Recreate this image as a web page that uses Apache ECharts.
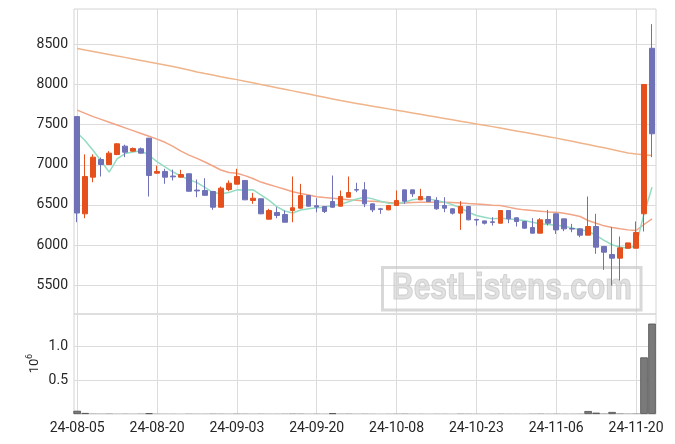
<!DOCTYPE html>
<html><head><meta charset="utf-8">
<script src="https://cdn.jsdelivr.net/npm/echarts@6/dist/echarts.min.js"></script>
<style>html,body{margin:0;padding:0;background:#fff}#c{width:675px;height:444px}</style>
</head><body><div id="c"></div>
<script>
const dates = ['24-08-05','24-08-06','24-08-07','24-08-08','24-08-09','24-08-12','24-08-13','24-08-14','24-08-16','24-08-19',
'24-08-20','24-08-21','24-08-22','24-08-23','24-08-26','24-08-27','24-08-28','24-08-29','24-08-30','24-09-02',
'24-09-03','24-09-04','24-09-05','24-09-06','24-09-09','24-09-10','24-09-11','24-09-12','24-09-13','24-09-19',
'24-09-20','24-09-23','24-09-24','24-09-25','24-09-26','24-09-27','24-09-30','24-10-02','24-10-04','24-10-07',
'24-10-08','24-10-10','24-10-11','24-10-14','24-10-15','24-10-16','24-10-17','24-10-18','24-10-21','24-10-22',
'24-10-23','24-10-24','24-10-25','24-10-28','24-10-29','24-10-30','24-10-31','24-11-01','24-11-04','24-11-05',
'24-11-06','24-11-07','24-11-08','24-11-11','24-11-12','24-11-13','24-11-14','24-11-15','24-11-18','24-11-19',
'24-11-20','24-11-21','24-11-22'];
const openP  = [7600,6390,6846,7066,7004,7128,7232,7170,7199,7331,6896,6917,6860,6846,6888,6685,6680,6668,6472,6692,
6759,6805,6556,6577,6323,6406,6381,6431,6460,6618,6490,6481,6543,6485,6597,6692,6688,6514,6452,6439,
6493,6688,6688,6564,6605,6556,6493,6452,6398,6481,6320,6302,6290,6273,6431,6340,6294,6219,6149,6319,
6390,6327,6207,6203,6124,6232,5983,5883,5838,5962,5962,6390,8450];
const closeP = [6400,6854,7095,7004,7145,7261,7157,7203,7145,6867,6917,6846,6850,6879,6671,6675,6620,6472,6709,6771,
6854,6564,6584,6390,6431,6369,6285,6465,6618,6485,6475,6419,6472,6605,6655,6685,6514,6439,6445,6493,
6556,6547,6639,6605,6543,6452,6460,6398,6481,6315,6312,6273,6283,6431,6327,6294,6211,6149,6315,6273,
6190,6203,6200,6124,6232,5975,5912,5838,5966,6028,6157,8000,7386];
const lowP   = [6285,6335,6783,6854,7000,7120,7095,7165,7140,6605,6890,6763,6805,6840,6665,6597,6615,6440,6470,6671,
6755,6560,6514,6385,6320,6335,6285,6285,6455,6480,6410,6400,6465,6480,6595,6659,6473,6410,6390,6435,
6490,6514,6600,6560,6540,6440,6410,6381,6190,6310,6244,6257,6244,6270,6273,6232,6205,6145,6145,6244,
6140,6174,6161,6099,6120,5892,5692,5497,5560,5960,5960,6170,7095];
const highP  = [7600,7130,7130,7090,7170,7270,7250,7215,7215,7335,6990,6950,6940,6937,6890,6817,6833,6675,6730,6805,
6950,6810,6651,6580,6452,6472,6431,6854,6763,6620,6584,6485,6867,6680,6854,6776,6784,6520,6464,6500,
6680,6690,6690,6701,6610,6597,6597,6460,6547,6485,6327,6305,6348,6435,6435,6345,6300,6336,6336,6439,
6395,6330,6265,6210,6605,6390,5990,6224,6107,6030,6294,8000,8750];
const maShort = [7400,7300,7178,7047,6908,7074,7140,7160,7175,7116,7040,6975,6910,6860,6815,6778,6720,6655,6640,6655,
6688,6685,6690,6625,6560,6480,6425,6400,6437,6452,6464,6473,6493,6510,6540,6575,6597,6576,6547,6522,
6514,6535,6564,6576,6576,6556,6535,6502,6464,6410,6369,6348,6327,6336,6327,6315,6307,6286,6265,6257,
6248,6235,6215,6190,6175,6120,6060,6005,5978,5960,5995,6390,6721];
const maMid = [7680,7640,7600,7565,7530,7495,7460,7425,7390,7355,7320,7280,7230,7170,7120,7080,7035,6985,6935,6905,
6895,6865,6830,6785,6755,6725,6695,6665,6643,6625,6603,6593,6584,6575,6565,6558,6550,6545,6540,6530,
6522,6525,6530,6533,6535,6535,6533,6530,6525,6518,6512,6505,6498,6492,6473,6452,6439,6431,6423,6414,
6410,6398,6377,6356,6307,6273,6240,6219,6203,6190,6182,6257,6327];
const maLong = [8447,8428,8410,8392,8374,8355,8337,8318,8299,8280,8262,8242,8222,8202,8180,8155,8135,8117,8097,8078,
8060,8040,8020,8000,7980,7960,7940,7920,7900,7880,7860,7840,7820,7800,7782,7764,7746,7730,7713,7696,
7679,7662,7645,7628,7611,7594,7577,7560,7543,7526,7509,7492,7475,7458,7440,7422,7404,7386,7368,7350,
7332,7312,7292,7272,7252,7232,7212,7190,7168,7148,7135,7125,7116];
const volume = [48000,15000,5000,4000,6000,3000,4000,3000,5000,12000,4000,3000,3000,2000,4000,3000,3000,5000,4000,3000,
5000,4000,3000,4000,3000,3000,4000,6000,5000,3000,4000,3000,12000,4000,5000,3000,4000,3000,2000,3000,
4000,5000,3000,3000,2000,3000,3000,2000,5000,4000,3000,2000,3000,4000,3000,3000,2000,4000,5000,3000,
4000,3000,3000,4000,44000,20000,6000,30000,8000,5000,7000,838000,1338000];
const xTickIdx = [0,10,20,30,40,50,60,70];
const priceTicks = [5500,6000,6500,7000,7500,8000,8500];
const volTicks = [500000,1000000];

const txt = '#262626', grid = '#dcdcdc';
const font = 'Roboto';
const chart = echarts.init(document.getElementById('c'), null, {renderer:'canvas'});
const xAxisBase = (gi, showLabel) => ({
  type:'value', gridIndex: gi, min:-0.4, max:72.5, splitNumber:7,
  axisLine:{show:false}, axisTick:{show:false, customValues:xTickIdx},
  axisLabel:{show:showLabel, customValues:xTickIdx, color:txt, fontFamily:font, fontSize:14, margin:7,
    formatter: v => (Number.isInteger(v) && dates[v]) ? dates[v] : ''},
  splitLine:{show:true, lineStyle:{color:grid, width:1}}
});
chart.setOption({
  animation:false,
  backgroundColor:'#ffffff',
  grid:[
    {left:74, top:9, width:582, height:305, show:true, borderColor:'#d4d4d4', borderWidth:1, backgroundColor:'transparent'},
    {left:74, top:314, width:582, height:100, show:true, borderColor:'#d4d4d4', borderWidth:1, backgroundColor:'transparent'}
  ],
  xAxis:[xAxisBase(0,false), xAxisBase(1,true)],
  yAxis:[
    {type:'value', gridIndex:0, min:5143, max:8939, splitNumber:7, scale:true,
     axisLine:{show:false}, axisTick:{show:false, customValues:priceTicks},
     axisLabel:{customValues:priceTicks, color:txt, fontFamily:font, fontSize:14, margin:6,
       formatter: v => (v % 500 === 0) ? String(v) : ''},
     splitLine:{show:true, lineStyle:{color:grid, width:1}}},
    {type:'value', gridIndex:1, min:0, max:1480000, splitNumber:3,
     axisLine:{show:false}, axisTick:{show:false, customValues:volTicks},
     axisLabel:{customValues:volTicks, color:txt, fontFamily:font, fontSize:14, margin:6,
       formatter: v => (v > 0 && v % 500000 === 0) ? (v/1e6).toFixed(1) : ''},
     splitLine:{show:true, lineStyle:{color:grid, width:1}}}
  ],
  graphic:[
    {type:'rect', z:1, shape:{x:382.5, y:267.5, width:258.5, height:42.5},
     style:{fill:'rgba(255,255,255,0.15)', stroke:'rgba(200,200,200,0.7)', lineWidth:3}},
    {type:'text', z:1, x:512, y:289, scaleY:1.2,
     style:{text:'BestListens.com', font:'bold 30px "Liberation Sans"', fill:'rgba(205,205,205,0.6)',
       stroke:'rgba(185,185,185,0.6)', lineWidth:1, align:'center', verticalAlign:'middle', textAlign:'center', textVerticalAlign:'middle'}},
    {type:'text', z:5, x:34.5, y:366, rotation:Math.PI/2,
     style:{text:'10', font:'13px Roboto', fill:txt, align:'center', verticalAlign:'middle', textAlign:'center', textVerticalAlign:'middle'}},
    {type:'text', z:5, x:30, y:356.5, rotation:Math.PI/2,
     style:{text:'6', font:'9px Roboto', fill:txt, align:'center', verticalAlign:'middle', textAlign:'center', textVerticalAlign:'middle'}}
  ],
  series:[
    {type:'line', xAxisIndex:0, yAxisIndex:0, data:maLong.map((v,i)=>[i,v]), symbol:'none', smooth:false, z:3,
     lineStyle:{color:'#efb48a', width:1.5}},
    {type:'line', xAxisIndex:0, yAxisIndex:0, data:maMid.map((v,i)=>[i,v]), symbol:'none', smooth:false, z:3,
     lineStyle:{color:'#f1a486', width:1.5}},
    {type:'line', xAxisIndex:0, yAxisIndex:0, data:maShort.map((v,i)=>[i,v]), symbol:'none', smooth:false, z:3,
     lineStyle:{color:'#93dcc2', width:1.5}},
    {type:'candlestick', xAxisIndex:0, yAxisIndex:0, z:4, barWidth:5,
     data: dates.map((d,i)=>[i, openP[i], closeP[i], lowP[i], highP[i]]),
     encode:{x:0, y:[1,2,3,4]},
     itemStyle:{color:'#e5501d', color0:'#6f72b6', borderColor:'#e5501d', borderColor0:'#6f72b6', borderWidth:1}},
    {type:'bar', xAxisIndex:1, yAxisIndex:1, barWidth:7.6, z:4,
     data: volume.map((v,i)=>({value:[i,v], itemStyle:{borderWidth: v > 10000 ? 0.8 : 0}})),
     itemStyle:{color:'#7a7a7a', borderColor:'#505050'}}
  ]
});
</script></body></html>
